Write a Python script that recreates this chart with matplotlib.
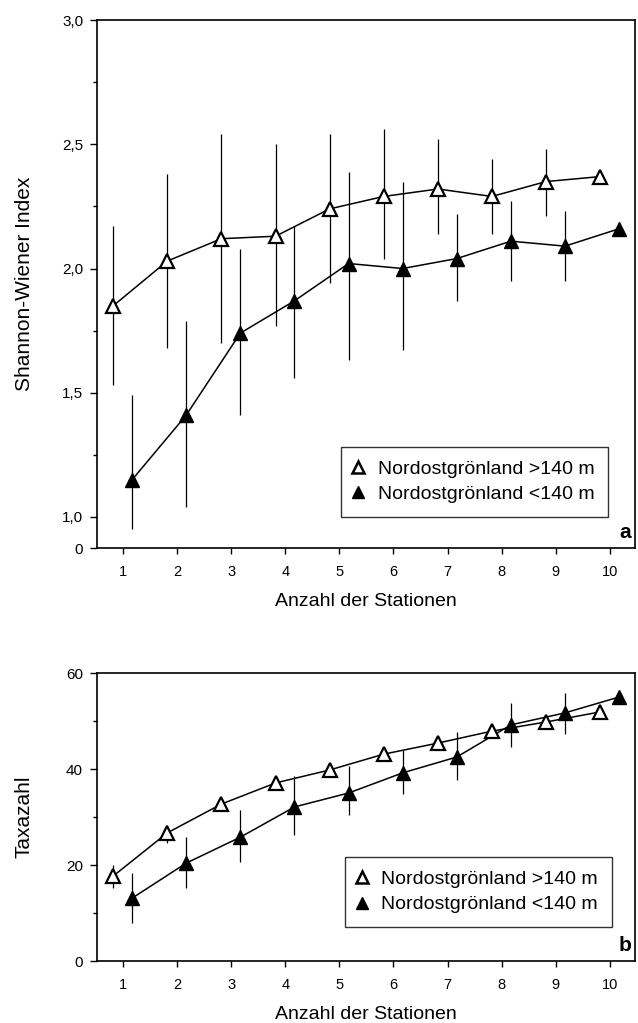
import matplotlib.pyplot as plt
from matplotlib.lines import Line2D

plt.rcParams['font.family'] = ['Liberation Sans', 'DejaVu Sans']

stations = [1, 2, 3, 4, 5, 6, 7, 8, 9, 10]
labels = ['Nordostgrönland >140 m', 'Nordostgrönland <140 m']

# panel a: Shannon-Wiener index, mean with range
sw_deep = [1.85, 2.03, 2.12, 2.13, 2.24, 2.29, 2.32, 2.29, 2.35, 2.37]
sw_deep_hi = [2.17, 2.38, 2.54, 2.50, 2.54, 2.56, 2.52, 2.44, 2.48, 2.37]
sw_deep_lo = [1.53, 1.68, 1.70, 1.77, 1.94, 2.04, 2.14, 2.14, 2.21, 2.37]
sw_shallow = [1.15, 1.41, 1.74, 1.87, 2.02, 2.00, 2.04, 2.11, 2.09, 2.16]
sw_shallow_hi = [1.49, 1.79, 2.08, 2.17, 2.39, 2.35, 2.22, 2.27, 2.23, 2.16]
sw_shallow_lo = [0.95, 1.04, 1.41, 1.56, 1.63, 1.67, 1.87, 1.95, 1.95, 2.16]

# panel b: number of taxa
tx_deep = [17.7, 26.7, 32.7, 37.1, 39.8, 43.1, 45.4, 47.9, 49.8, 51.9]
tx_deep_hi = [20.0, 28.3, 33.5, 37.8, 40.5, 43.8, 46.0, 48.5, 50.4, 52.4]
tx_deep_lo = [15.2, 24.6, 31.8, 36.3, 39.0, 42.4, 44.8, 47.3, 49.2, 51.4]
tx_shallow = [13.1, 20.4, 25.8, 32.1, 35.0, 39.2, 42.5, 49.2, 51.7, 55.0]
tx_shallow_hi = [18.3, 25.8, 31.5, 38.5, 40.6, 43.9, 47.7, 53.8, 55.8, 55.0]
tx_shallow_lo = [7.9, 15.2, 20.6, 26.3, 30.4, 34.8, 37.7, 44.6, 47.3, 55.0]


def draw(ax, mean_a, hi_a, lo_a, mean_b, hi_b, lo_b):
    xa = [s - 0.18 for s in stations]
    xb = [s + 0.17 for s in stations]
    ax.vlines(xa, lo_a, hi_a, color='black', lw=0.9, zorder=1)
    ax.vlines(xb, lo_b, hi_b, color='black', lw=0.9, zorder=1)
    ax.plot(xa, mean_a, '-', color='black', lw=1.1, zorder=2)
    ax.plot(xb, mean_b, '-', color='black', lw=1.1, zorder=2)
    ax.plot(xa, mean_a, '^', ms=10, mfc='white', mec='black', mew=1.6, ls='none', zorder=3)
    ax.plot(xb, mean_b, '^', ms=10, mfc='black', mec='black', ls='none', zorder=3)
    ax.set_xlim(0.52, 10.46)
    ax.set_xticks(stations)
    ax.tick_params(axis='x', which='major', direction='out', length=4, width=1, labelsize=10.5, pad=8)
    ax.tick_params(axis='y', which='major', direction='out', length=5, width=1, labelsize=11, pad=5)
    ax.tick_params(axis='both', which='minor', direction='out', length=3, width=1)
    for sp in ax.spines.values():
        sp.set_linewidth(1.2)
    ax.set_xlabel('Anzahl der Stationen', fontsize=14, labelpad=10)
    ax.yaxis.set_label_coords(-0.118, 0.5)
    handles = [Line2D([], [], marker='^', ls='none', ms=8, mfc='white', mec='black', mew=1.8),
               Line2D([], [], marker='^', ls='none', ms=8, mfc='black', mec='black')]
    return handles


def add_legend(ax, handles, anchor):
    leg = ax.legend(handles, labels, loc='lower right', bbox_to_anchor=anchor, fontsize=14,
                    frameon=True, fancybox=False, edgecolor='black', handletextpad=0.8,
                    handlelength=0.4, borderpad=0.7, labelspacing=0.4, borderaxespad=0)
    leg.get_frame().set_linewidth(1.0)


fig = plt.figure(figsize=(6.38, 10.23), dpi=100)

ax1 = fig.add_axes([0.152, 0.4643, 0.843, 0.5161])
h = draw(ax1, sw_deep, sw_deep_hi, sw_deep_lo, sw_shallow, sw_shallow_hi, sw_shallow_lo)
ax1.set_ylim(0.875, 3.0)
ax1.set_yticks([0.875, 1.0, 1.5, 2.0, 2.5, 3.0])
ax1.set_yticklabels(['0', '1,0', '1,5', '2,0', '2,5', '3,0'])
ax1.set_yticks([1.25, 1.75, 2.25, 2.75], minor=True)
ax1.set_ylabel('Shannon-Wiener Index', fontsize=15)
add_legend(ax1, h, (0.95, 0.059))
ax1.text(0.993, 0.012, 'a', transform=ax1.transAxes, ha='right', va='bottom',
         fontsize=15, fontweight='bold')

ax2 = fig.add_axes([0.152, 0.0606, 0.843, 0.2815])
h = draw(ax2, tx_deep, tx_deep_hi, tx_deep_lo, tx_shallow, tx_shallow_hi, tx_shallow_lo)
ax2.set_ylim(0, 60)
ax2.set_yticks([0, 20, 40, 60])
ax2.set_yticks([10, 30, 50], minor=True)
ax2.set_ylabel('Taxazahl', fontsize=15)
add_legend(ax2, h, (0.957, 0.118))
ax2.text(0.993, 0.02, 'b', transform=ax2.transAxes, ha='right', va='bottom',
         fontsize=15, fontweight='bold')

fig.savefig('out.png', dpi=100)
